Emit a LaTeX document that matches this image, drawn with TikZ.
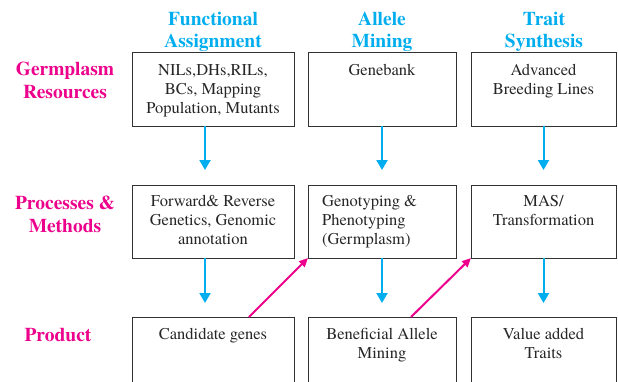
\documentclass[tikz,border=0pt]{standalone}
\usepackage{fontspec}
\setmainfont{texgyretermes}[Extension=.otf, UprightFont=*-regular, BoldFont=*-bold, ItalicFont=*-italic, BoldItalicFont=*-bolditalic]
\usetikzlibrary{arrows.meta}
\definecolor{hcyan}{RGB}{0,174,239}
\definecolor{hmag}{RGB}{236,0,140}
\definecolor{boxline}{RGB}{50,50,50}
\tikzset{
  box/.style={draw=boxline, line width=0.9pt, inner sep=0pt, outer sep=0pt, anchor=north west},
  txt/.style={inner sep=0pt, anchor=north, align=center, text=black!85,
    font=\fontsize{16.5}{19}\selectfont},
  colhead/.style={inner sep=0pt, anchor=north, align=center, text=hcyan,
    font=\fontsize{19.5}{22}\selectfont\bfseries},
  rowhead/.style={inner sep=0pt, anchor=north, align=center, text=hmag,
    font=\fontsize{19.5}{23}\selectfont\bfseries},
  downarrow/.style={draw=hcyan, line width=2pt, -{Triangle[width=11pt,length=10pt]}},
  diagarrow/.style={draw=hmag, line width=2pt, -{Triangle[width=8pt,length=9pt]}}
}
\begin{document}
\begin{tikzpicture}[x=1pt,y=-1pt]
\clip (0,0) rectangle (618,381);
\fill[white] (0,0) rectangle (618,381);
% column headers
\node[colhead] (h1) at (213,12) {Functional\\Assignment};
\node[colhead] (h2) at (382,12) {Allele\\Mining};
\node[colhead] (h3) at (544,12) {Trait\\Synthesis};
% row headers
\node[rowhead] (r1) at (65,62) {Germplasm\\Resources};
\node[rowhead] (r2) at (65,196) {Processes \&\\Methods};
\node[rowhead] (r3) at (58,328) {Product};
% boxes
\node[box, minimum width=162, minimum height=74] (b11) at (132,52) {};
\node[box, minimum width=148, minimum height=74] (b12) at (308,52) {};
\node[box, minimum width=145, minimum height=74] (b13) at (471,52) {};
\node[box, minimum width=162, minimum height=73] (b21) at (132,185) {};
\node[box, minimum width=148, minimum height=73] (b22) at (308,185) {};
\node[box, minimum width=145, minimum height=73] (b23) at (471,185) {};
\node[box, minimum width=162, minimum height=90] (b31) at (132,317) {};
\node[box, minimum width=148, minimum height=90] (b32) at (308,317) {};
\node[box, minimum width=145, minimum height=90] (b33) at (471,317) {};
% texts
\node[txt] (t11) at ([yshift=-12pt]b11.north) {NILs,DHs,RILs,\\BCs, Mapping\\Population, Mutants};
\node[txt] (t12) at ([yshift=-12pt]b12.north) {Genebank};
\node[txt] (t13) at ([yshift=-12pt]b13.north) {Advanced\\Breeding Lines};
\node[txt] (t21) at ([yshift=-10pt]b21.north) {Forward\& Reverse\\Genetics, Genomic\\annotation};
\node[txt, anchor=north west, align=left] (t22) at ([xshift=14pt,yshift=-10pt]b22.north west) {Genotyping \&\\Phenotyping\\(Germplasm)};
\node[txt] (t23) at ([yshift=-10pt]b23.north) {MAS/\\Transformation};
\node[txt] (t31) at ([yshift=-11pt]b31.north) {Candidate genes};
\node[txt] (t32) at ([yshift=-11pt]b32.north) {Beneficial Allele\\Mining};
\node[txt] (t33) at ([yshift=-11pt]b33.north) {Value added\\Traits};
% vertical arrows
\draw[downarrow, shorten >=15pt] ([xshift=-8pt]b11.south) -- ([xshift=-8pt]b21.north);
\draw[downarrow, shorten >=15pt] (b12.south) -- (b22.north);
\draw[downarrow, shorten >=15pt] (b13.south) -- (b23.north);
\draw[downarrow, shorten >=14pt] ([xshift=-8pt]b21.south) -- ([xshift=-8pt]b31.north);
\draw[downarrow, shorten >=14pt] (b22.south) -- (b32.north);
\draw[downarrow, shorten >=14pt] (b23.south) -- (b33.north);
% diagonal arrows
\draw[diagarrow] ([xshift=36pt]b31.north) -- (b22.south west);
\draw[diagarrow] ([xshift=29pt]b32.north) -- (b23.south west);
\end{tikzpicture}
\end{document}
